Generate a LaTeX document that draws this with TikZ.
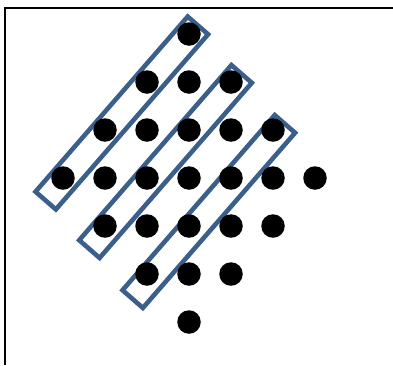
\documentclass[tikz,border=0pt]{standalone}
\definecolor{bandblue}{RGB}{58,95,139}
\tikzset{
  dot/.style={circle,fill=black,draw=none,minimum size=23.5pt,inner sep=0pt},
  band/.style={draw=bandblue,line width=4.6pt,rectangle,minimum width=232pt,minimum height=27pt,inner sep=0pt,rotate=49},
  frameline/.style={draw=black,line width=2pt}
}
\begin{document}
\begin{tikzpicture}[x=1pt,y=-1pt]
\useasboundingbox (0,0) rectangle (393,365);
% frame
\coordinate (ftr) at (393,7.5);
\coordinate (ftl) at (5,7.5);
\coordinate (fbl) at (5,365);
\draw[frameline] (ftr) -- (ftl) -- (fbl);
% bands
\node[band] (b1) at (121.8,113) {};
\node[band] (b2) at (165.5,161.5) {};
\node[band] (b3) at (208.8,211.5) {};
% dots
\foreach \x in {189} \node[dot] (d1-\x) at (\x,34) {};
\foreach \x in {147,189,231} \node[dot] (d2-\x) at (\x,82) {};
\foreach \x in {105,147,189,231,273} \node[dot] (d3-\x) at (\x,130) {};
\foreach \x in {63,105,147,189,231,273,315} \node[dot] (d4-\x) at (\x,178) {};
\foreach \x in {105,147,189,231,273} \node[dot] (d5-\x) at (\x,226) {};
\foreach \x in {147,189,231} \node[dot] (d6-\x) at (\x,274) {};
\foreach \x in {189} \node[dot] (d7-\x) at (\x,322) {};
\end{tikzpicture}
\end{document}
